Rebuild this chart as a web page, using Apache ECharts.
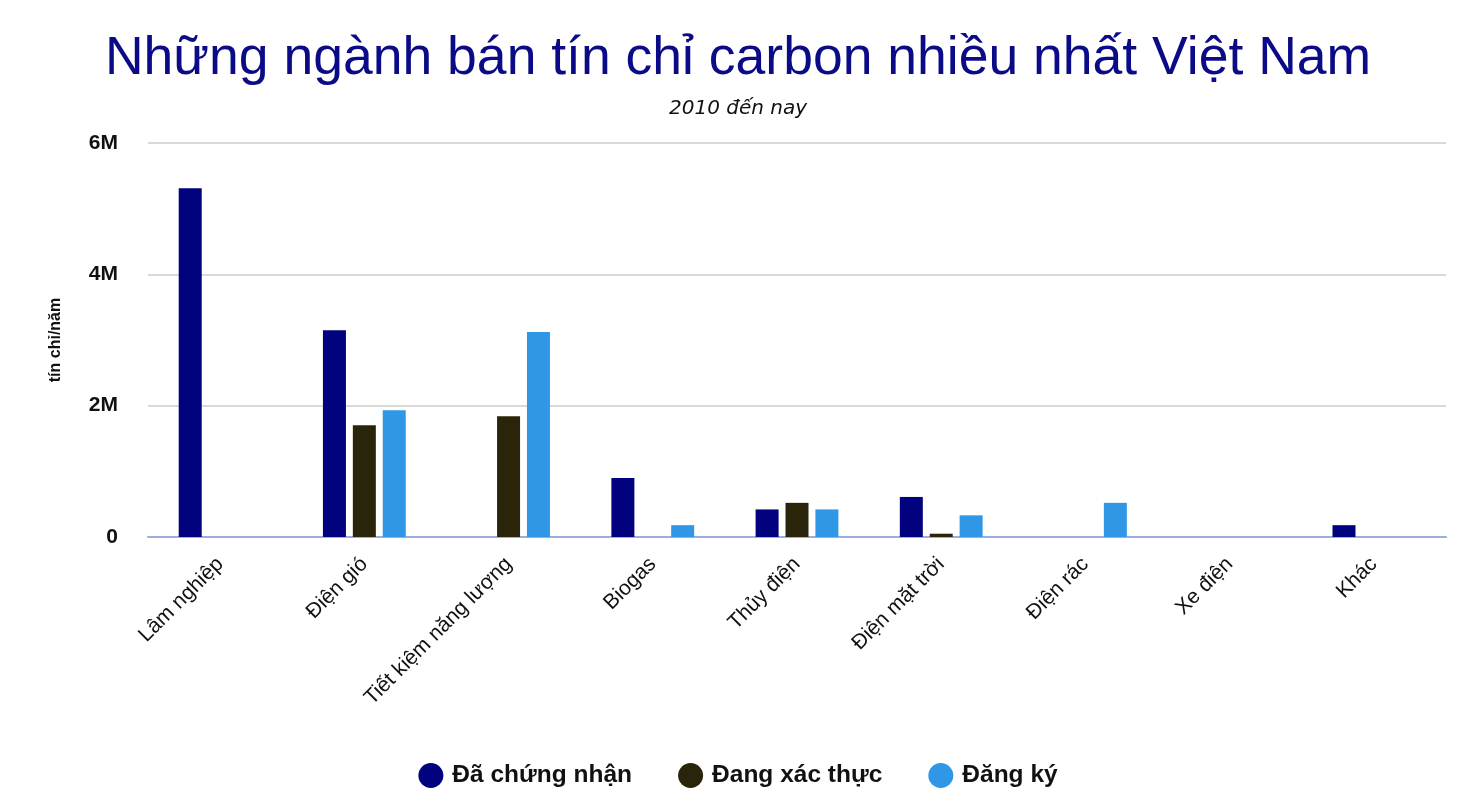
<!DOCTYPE html>
<html>
<head>
<meta charset="utf-8">
<script src="https://cdn.jsdelivr.net/npm/echarts@6/dist/echarts.min.js"></script>
<style>
  html, body { margin: 0; padding: 0; background: #fff; }
  #chart { width: 1476px; height: 804px; }
</style>
</head>
<body>
<div id="chart"></div>
<script>
// nhóm ngành
var categories = ['Lâm nghiệp', 'Điện gió', 'Tiết kiệm năng lượng', 'Biogas', 'Thủy điện', 'Điện mặt trời', 'Điện rác', 'Xe điện', 'Khác']
var seriesNames = ['Đã chứng nhận', 'Đang xác thực', 'Đăng ký']
// tín chỉ/năm
var certified = [5310000, 3150000, 0, 900000, 420000, 610000, 0, 0, 180000]
var validating = [0, 1700000, 1840000, 0, 520000, 50000, 0, 0, 0]
var registered = [0, 1930000, 3120000, 180000, 420000, 330000, 520000, 0, 0]
var yTicks = [0, 2000000, 4000000, 6000000]

var colors = ['#02027f', '#2a240a', '#2f97e5']

var chart = echarts.init(document.getElementById('chart'))

function bar(name, data, color) {
  return {
    name: name,
    type: 'bar',
    data: data,
    barWidth: 23,
    barGap: '30%',
    itemStyle: { color: color }
  }
}

var option = {
  animation: false,
  title: [
    {
      text: 'Những ngành bán tín chỉ carbon nhiều nhất Việt Nam',
      left: 'center',
      top: 27,
      textStyle: { fontFamily: 'Liberation Sans', fontSize: 53.5, fontWeight: 'normal', color: '#0b0b88' }
    },
    {
      text: '2010 đến nay',
      left: 'center',
      top: 94,
      textStyle: { fontFamily: 'DejaVu Sans', fontSize: 20, fontStyle: 'italic', fontWeight: 'normal', color: '#111' }
    }
  ],
  legend: {
    data: seriesNames,
    bottom: 11,
    left: 'center',
    icon: 'circle',
    itemWidth: 25,
    itemHeight: 25,
    itemGap: 46,
    textStyle: { fontFamily: 'Liberation Sans', fontSize: 24.5, fontWeight: 'bold', color: '#111', padding: [0, 0, 0, 4] }
  },
  grid: { left: 148, right: 30, top: 143, bottom: 267, containLabel: false },
  xAxis: {
    type: 'category',
    data: categories,
    axisTick: { show: false },
    axisLine: { lineStyle: { color: '#9aaee0', width: 2 } },
    axisLabel: {
      rotate: 45,
      interval: 0,
      margin: 24,
      fontFamily: 'Liberation Sans',
      fontSize: 21,
      color: '#111'
    }
  },
  yAxis: {
    type: 'value',
    min: 0,
    max: 6000000,
    interval: 2000000,
    name: 'tín chỉ/năm',
    nameLocation: 'middle',
    nameGap: 84,
    nameRotate: 90,
    nameTextStyle: { fontFamily: 'Liberation Sans', fontSize: 16, fontWeight: 'bold', color: '#111' },
    axisLine: { show: false },
    axisTick: { show: false },
    splitLine: { lineStyle: { color: '#cccccc', width: 1.5 } },
    axisLabel: {
      margin: 30,
      fontFamily: 'Liberation Sans',
      fontSize: 21,
      fontWeight: 'bold',
      color: '#111',
      formatter: function (v) {
        if (yTicks.indexOf(v) < 0) return ''
        return v === 0 ? '0' : (v / 1000000) + 'M'
      }
    }
  },
  series: [
    bar(seriesNames[0], certified, colors[0]),
    bar(seriesNames[1], validating, colors[1]),
    bar(seriesNames[2], registered, colors[2])
  ]
}

chart.setOption(option)
window.addEventListener('resize', chart.resize)
</script>
</body>
</html>
